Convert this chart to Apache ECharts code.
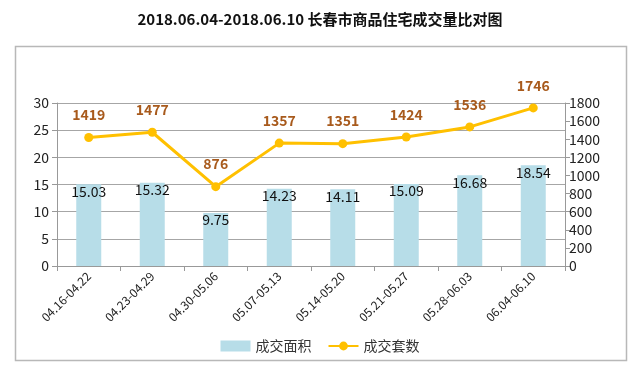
<!DOCTYPE html>
<html><head><meta charset="utf-8">
<script src="https://cdn.jsdelivr.net/npm/echarts@6/dist/echarts.min.js"></script>
<style>html,body{margin:0;padding:0;background:#fff}#c{width:640px;height:375px}</style>
</head><body><div id="c"></div>
<script>
const categories = ['04.16-04.22','04.23-04.29','04.30-05.06','05.07-05.13','05.14-05.20','05.21-05.27','05.28-06.03','06.04-06.10'];
const areaValues = [15.03, 15.32, 9.75, 14.23, 14.11, 15.09, 16.68, 18.54];
const unitValues = [1419, 1477, 876, 1357, 1351, 1424, 1536, 1746];
const titleText = '2018.06.04-2018.06.10 长春市商品住宅成交量比对图';
const font = '"Noto Sans CJK SC","Noto Sans",sans-serif';
const chart = echarts.init(document.getElementById('c'));
chart.setOption({
  animation: false,
  backgroundColor: '#fff',
  title: {text: titleText, left: 'center', top: 7, textStyle: {fontFamily: font, fontSize: 15, fontWeight: 'bold', color: '#111'}},
  graphic: [{type: 'rect', shape: {x: 15.5, y: 46.5, width: 611, height: 314}, style: {fill: 'none', stroke: '#b8b8b8', lineWidth: 1.5}, silent: true}],
  grid: {left: 57, right: 75, top: 103, bottom: 109},
  legend: {
    bottom: 17, left: 'center', itemGap: 16, itemWidth: 30, itemHeight: 11,
    textStyle: {fontFamily: font, fontSize: 14, color: '#333'},
    data: [{name: '成交面积', icon: 'rect'}, {name: '成交套数'}]
  },
  xAxis: {
    type: 'category', data: categories,
    axisLine: {lineStyle: {color: '#999'}},
    axisTick: {show: true, alignWithLabel: false, length: 5, lineStyle: {color: '#999'}},
    axisLabel: {rotate: 45, fontFamily: font, fontSize: 12, color: '#222', margin: 8, interval: 0}
  },
  yAxis: [
    {type: 'value', min: 0, max: 30, interval: 5, position: 'left',
     axisLine: {show: true, lineStyle: {color: '#999'}},
     axisTick: {show: true, length: 5, lineStyle: {color: '#999'}},
     axisLabel: {fontFamily: font, fontSize: 14, color: '#222', margin: 8},
     splitLine: {lineStyle: {color: '#a6a6a6'}}},
    {type: 'value', min: 0, max: 1800, interval: 200, position: 'right',
     axisLine: {show: true, lineStyle: {color: '#999'}},
     axisTick: {show: true, length: 5, lineStyle: {color: '#999'}},
     axisLabel: {fontFamily: font, fontSize: 14, color: '#222', margin: 4, formatter: v => String(v)},
     splitLine: {show: false}}
  ],
  series: [
    {name: '成交面积', type: 'bar', yAxisIndex: 0, data: areaValues, barWidth: 25,
     itemStyle: {color: '#b7dde8'},
     label: {show: true, position: 'insideTop', distance: 0, fontFamily: font, fontSize: 14, color: '#111'}},
    {name: '成交套数', type: 'line', yAxisIndex: 1, data: unitValues,
     lineStyle: {color: '#ffc000', width: 3}, itemStyle: {color: '#ffc000'},
     symbol: 'circle', symbolSize: 9,
     label: {show: true, position: 'top', distance: 11, fontFamily: font, fontSize: 14, fontWeight: 'bold', color: '#a85a1c'}}
  ]
});
</script></body></html>
